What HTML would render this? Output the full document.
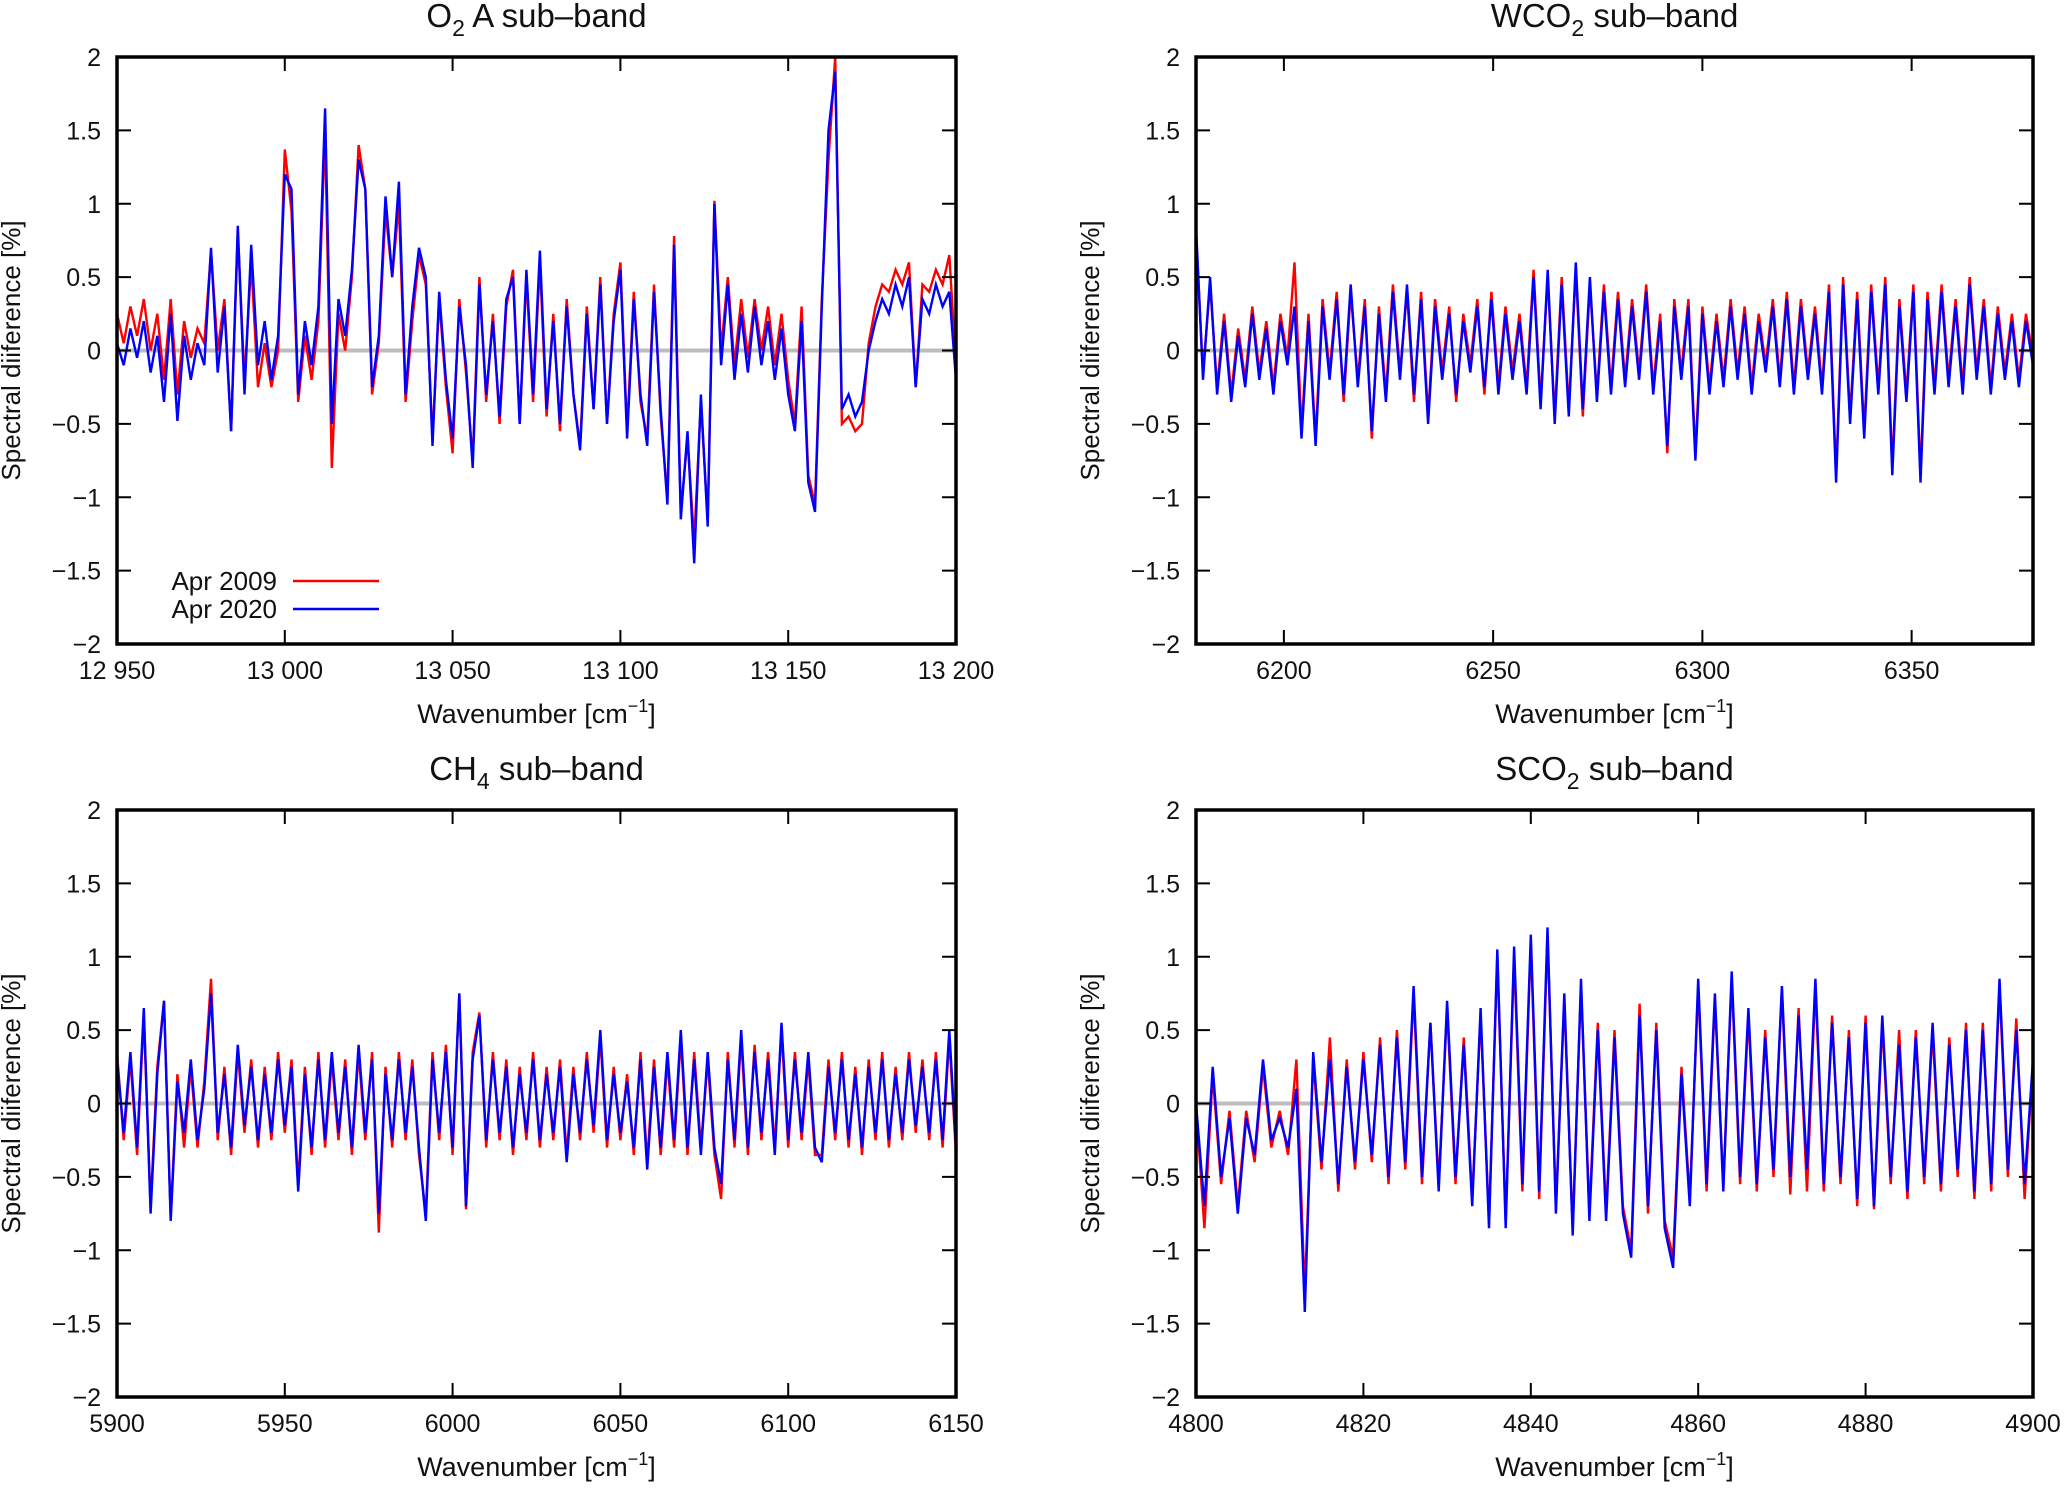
<!DOCTYPE html>
<html><head><meta charset="utf-8"><style>
html,body{margin:0;padding:0;background:#fff}
svg text{font-family:"Liberation Sans",sans-serif;fill:#111}
</style></head><body>
<svg id="chart" width="2067" height="1484" viewBox="0 0 2067 1484" xmlns="http://www.w3.org/2000/svg"></svg>
<script>
const o2Blue=[0.05,-0.1,0.15,-0.05,0.2,-0.15,0.1,-0.35,0.25,-0.48,0.1,-0.2,0.05,-0.1,0.7,-0.15,0.3,-0.55,0.85,-0.3,0.72,-0.1,0.2,-0.2,0.1,1.2,1.1,-0.3,0.2,-0.1,0.3,1.65,-0.5,0.35,0.1,0.55,1.3,1.1,-0.25,0.1,1.05,0.5,1.15,-0.3,0.3,0.7,0.5,-0.65,0.4,-0.2,-0.6,0.3,-0.1,-0.8,0.45,-0.3,0.2,-0.45,0.35,0.5,-0.5,0.55,-0.3,0.68,-0.4,0.2,-0.5,0.3,-0.3,-0.68,0.25,-0.4,0.45,-0.5,0.2,0.55,-0.6,0.35,-0.3,-0.65,0.4,-0.4,-1.05,0.72,-1.15,-0.55,-1.45,-0.3,-1.2,1.0,-0.1,0.45,-0.2,0.25,-0.15,0.3,-0.1,0.2,-0.2,0.15,-0.3,-0.55,0.2,-0.9,-1.1,0.3,1.5,1.9,-0.4,-0.3,-0.45,-0.35,0.0,0.2,0.35,0.25,0.45,0.3,0.5,-0.25,0.35,0.25,0.45,0.3,0.4,-0.2];
const o2Red=[0.25,0.05,0.3,0.1,0.35,0.0,0.25,-0.2,0.35,-0.3,0.2,-0.05,0.15,0.05,0.68,0.0,0.35,-0.55,0.8,-0.2,0.6,-0.25,0.05,-0.25,0.0,1.37,0.95,-0.35,0.1,-0.2,0.2,1.5,-0.8,0.25,0.0,0.5,1.4,1.1,-0.3,0.05,0.95,0.5,1.0,-0.35,0.2,0.65,0.45,-0.6,0.35,-0.25,-0.7,0.35,-0.15,-0.75,0.5,-0.35,0.25,-0.5,0.3,0.55,-0.5,0.5,-0.35,0.6,-0.45,0.25,-0.55,0.35,-0.3,-0.65,0.3,-0.4,0.5,-0.5,0.25,0.6,-0.55,0.4,-0.35,-0.6,0.45,-0.45,-1.0,0.78,-1.1,-0.6,-1.3,-0.35,-1.15,1.02,0.0,0.5,-0.1,0.35,-0.05,0.35,0.0,0.3,-0.1,0.25,-0.2,-0.5,0.3,-0.85,-1.05,0.35,1.3,2.0,-0.5,-0.45,-0.55,-0.5,0.05,0.3,0.45,0.4,0.55,0.45,0.6,-0.25,0.45,0.4,0.55,0.45,0.65,-0.1];
const wBlue=[0.85,-0.2,0.5,-0.3,0.2,-0.35,0.1,-0.25,0.25,-0.2,0.15,-0.3,0.2,-0.1,0.3,-0.6,0.2,-0.65,0.3,-0.2,0.35,-0.3,0.45,-0.25,0.3,-0.55,0.25,-0.35,0.4,-0.2,0.45,-0.3,0.35,-0.5,0.3,-0.2,0.25,-0.3,0.2,-0.15,0.3,-0.25,0.35,-0.3,0.25,-0.2,0.2,-0.3,0.5,-0.4,0.55,-0.5,0.45,-0.45,0.6,-0.4,0.5,-0.35,0.4,-0.3,0.35,-0.25,0.3,-0.2,0.4,-0.3,0.2,-0.65,0.3,-0.2,0.3,-0.75,0.25,-0.3,0.2,-0.25,0.3,-0.2,0.25,-0.3,0.2,-0.15,0.3,-0.25,0.35,-0.3,0.3,-0.2,0.25,-0.3,0.4,-0.9,0.45,-0.5,0.35,-0.6,0.4,-0.3,0.45,-0.85,0.3,-0.35,0.4,-0.9,0.35,-0.3,0.4,-0.25,0.3,-0.3,0.45,-0.2,0.3,-0.3,0.25,-0.2,0.2,-0.25,0.2,-0.1];
const wRed=[0.8,-0.15,0.45,-0.25,0.25,-0.3,0.15,-0.2,0.3,-0.15,0.2,-0.25,0.25,-0.05,0.6,-0.55,0.25,-0.6,0.35,-0.15,0.4,-0.35,0.4,-0.2,0.35,-0.6,0.3,-0.3,0.45,-0.15,0.4,-0.35,0.4,-0.45,0.35,-0.15,0.3,-0.35,0.25,-0.1,0.35,-0.3,0.4,-0.25,0.3,-0.15,0.25,-0.25,0.55,-0.35,0.5,-0.45,0.5,-0.4,0.55,-0.45,0.45,-0.3,0.45,-0.25,0.4,-0.2,0.35,-0.15,0.45,-0.25,0.25,-0.7,0.35,-0.15,0.35,-0.7,0.3,-0.25,0.25,-0.2,0.35,-0.15,0.3,-0.25,0.25,-0.1,0.35,-0.2,0.4,-0.25,0.35,-0.15,0.3,-0.25,0.45,-0.85,0.5,-0.45,0.4,-0.55,0.45,-0.25,0.5,-0.8,0.35,-0.3,0.45,-0.85,0.4,-0.25,0.45,-0.2,0.35,-0.25,0.5,-0.15,0.35,-0.25,0.3,-0.15,0.25,-0.2,0.25,-0.05];
const chBlue=[0.3,-0.2,0.35,-0.3,0.65,-0.75,0.2,0.7,-0.8,0.15,-0.2,0.3,-0.25,0.1,0.75,-0.2,0.2,-0.3,0.4,-0.15,0.25,-0.25,0.2,-0.2,0.3,-0.15,0.25,-0.6,0.2,-0.3,0.3,-0.25,0.35,-0.2,0.25,-0.3,0.4,-0.2,0.3,-0.75,0.2,-0.25,0.3,-0.2,0.25,-0.3,-0.8,0.3,-0.2,0.35,-0.3,0.75,-0.7,0.3,0.6,-0.25,0.3,-0.2,0.25,-0.3,0.2,-0.2,0.3,-0.25,0.2,-0.2,0.25,-0.4,0.2,-0.2,0.3,-0.15,0.5,-0.25,0.2,-0.2,0.15,-0.3,0.3,-0.45,0.25,-0.3,0.35,-0.25,0.5,-0.3,0.3,-0.35,0.35,-0.3,-0.55,0.3,-0.25,0.5,-0.3,0.35,-0.2,0.3,-0.35,0.55,-0.25,0.3,-0.2,0.35,-0.3,-0.4,0.25,-0.2,0.3,-0.25,0.2,-0.3,0.25,-0.2,0.3,-0.25,0.2,-0.2,0.3,-0.15,0.25,-0.2,0.3,-0.25,0.5,-0.3];
const chRed=[0.35,-0.25,0.3,-0.35,0.6,-0.7,0.25,0.7,-0.78,0.2,-0.3,0.25,-0.3,0.15,0.85,-0.25,0.25,-0.35,0.35,-0.2,0.3,-0.3,0.25,-0.25,0.35,-0.2,0.3,-0.55,0.25,-0.35,0.35,-0.3,0.3,-0.25,0.3,-0.35,0.35,-0.25,0.35,-0.88,0.25,-0.3,0.35,-0.25,0.3,-0.35,-0.75,0.35,-0.25,0.4,-0.35,0.75,-0.72,0.35,0.62,-0.3,0.35,-0.25,0.3,-0.35,0.25,-0.25,0.35,-0.3,0.25,-0.25,0.3,-0.35,0.25,-0.25,0.35,-0.2,0.45,-0.3,0.25,-0.25,0.2,-0.35,0.35,-0.4,0.3,-0.35,0.3,-0.3,0.45,-0.35,0.35,-0.3,0.3,-0.35,-0.65,0.35,-0.3,0.45,-0.35,0.4,-0.25,0.35,-0.3,0.5,-0.3,0.35,-0.25,0.3,-0.35,-0.35,0.3,-0.25,0.35,-0.3,0.25,-0.35,0.3,-0.25,0.35,-0.3,0.25,-0.25,0.35,-0.2,0.3,-0.25,0.35,-0.3,0.45,-0.35];
const sBlue=[0,-0.7,0.25,-0.5,-0.1,-0.75,-0.1,-0.35,0.3,-0.25,-0.1,-0.3,0.1,-1.42,0.35,-0.4,0.3,-0.55,0.25,-0.4,0.3,-0.35,0.4,-0.5,0.45,-0.4,0.8,-0.5,0.55,-0.6,0.7,-0.5,0.4,-0.7,0.65,-0.85,1.05,-0.85,1.07,-0.55,1.15,-0.6,1.2,-0.75,0.75,-0.9,0.85,-0.8,0.5,-0.8,0.45,-0.75,-1.05,0.6,-0.7,0.5,-0.85,-1.12,0.2,-0.7,0.85,-0.55,0.75,-0.6,0.9,-0.5,0.65,-0.55,0.45,-0.45,0.8,-0.5,0.6,-0.45,0.85,-0.55,0.55,-0.5,0.45,-0.65,0.55,-0.7,0.6,-0.5,0.4,-0.6,0.45,-0.5,0.55,-0.55,0.4,-0.45,0.5,-0.6,0.5,-0.55,0.85,-0.45,0.5,-0.55,0.3];
const sRed=[0,-0.85,0.2,-0.55,-0.05,-0.7,-0.05,-0.4,0.25,-0.3,-0.05,-0.35,0.3,-1.3,0.3,-0.45,0.45,-0.6,0.3,-0.45,0.35,-0.4,0.45,-0.55,0.5,-0.45,0.75,-0.55,0.55,-0.55,0.65,-0.55,0.45,-0.65,0.6,-0.8,1.0,-0.8,1.0,-0.6,1.1,-0.65,1.15,-0.7,0.7,-0.85,0.8,-0.75,0.55,-0.75,0.5,-0.7,-1.0,0.68,-0.75,0.55,-0.8,-1.05,0.25,-0.65,0.8,-0.6,0.7,-0.55,0.85,-0.55,0.6,-0.6,0.5,-0.5,0.78,-0.62,0.65,-0.6,0.8,-0.6,0.6,-0.55,0.5,-0.7,0.6,-0.72,0.55,-0.55,0.5,-0.65,0.5,-0.55,0.5,-0.6,0.45,-0.5,0.55,-0.65,0.55,-0.6,0.8,-0.5,0.58,-0.65,0.3];
const yTicks=[-2,-1.5,-1,-0.5,0,0.5,1,1.5,2];
const yTickLabels=["\u22122","\u22121.5","\u22121","\u22120.5","0","0.5","1","1.5","2"];
const o2XTicks=[12950,13000,13050,13100,13150,13200];
const o2XLabels=["12 950","13 000","13 050","13 100","13 150","13 200"];
const wXTicks=[6200,6250,6300,6350];
const wXLabels=["6200","6250","6300","6350"];
const chXTicks=[5900,5950,6000,6050,6100,6150];
const chXLabels=["5900","5950","6000","6050","6100","6150"];
const sXTicks=[4800,4820,4840,4860,4880,4900];
const sXLabels=["4800","4820","4840","4860","4880","4900"];

const NS="http://www.w3.org/2000/svg";
const svg=document.getElementById('chart');
function mk(tag,attrs,parent){const e=document.createElementNS(NS,tag);for(const k in attrs)e.setAttribute(k,attrs[k]);(parent||svg).appendChild(e);return e;}

const panels=[
 {key:'o2',title:['O','2',' A sub\u2013band'],L:117,R:956,T:57,B:644,x0:12950,x1:13200,xt:o2XTicks,xl:o2XLabels,red:o2Red,blue:o2Blue,legend:true},
 {key:'wco2',title:['WCO','2',' sub\u2013band'],L:1196,R:2033,T:57,B:644,x0:6179,x1:6379,xt:wXTicks,xl:wXLabels,red:wRed,blue:wBlue},
 {key:'ch4',title:['CH','4',' sub\u2013band'],L:117,R:956,T:810,B:1397,x0:5900,x1:6150,xt:chXTicks,xl:chXLabels,red:chRed,blue:chBlue},
 {key:'sco2',title:['SCO','2',' sub\u2013band'],L:1196,R:2033,T:810,B:1397,x0:4800,x1:4900,xt:sXTicks,xl:sXLabels,red:sRed,blue:sBlue}
];

panels.forEach(p=>{
 const g=mk('g',{});
 
 
 const xs=v=>p.L+(v-p.x0)/(p.x1-p.x0)*(p.R-p.L);
 const ys=v=>p.B-(v+2)/4*(p.B-p.T);
 const t=mk('text',{x:(p.L+p.R)/2,y:p.T-30,'text-anchor':'middle','font-size':33},g);
 
 
 t.appendChild(document.createTextNode(p.title[0]));
 const sub=mk('tspan',{'font-size':23,dy:9},t);sub.textContent=p.title[1];
 const rest=mk('tspan',{dy:-9},t);rest.textContent=p.title[2];
 const z=mk('line',{x1:p.L,x2:p.R,y1:ys(0),y2:ys(0),stroke:'#bdbdbd','stroke-width':4},g);
 
 
 [['red','#ff0000',p.red,'apr-2009'],['blue','#0000ff',p.blue,'apr-2020']].forEach(s=>{
  const arr=s[2];const n=arr.length;
  const pts=arr.map((v,i)=>xs(p.x0+i*(p.x1-p.x0)/(n-1)).toFixed(1)+','+ys(v).toFixed(1)).join(' ');
  const pl=mk('polyline',{points:pts,fill:'none',stroke:s[1],'stroke-width':2.4,'stroke-linejoin':'miter'},g);
  
  
 });
 yTicks.forEach((v,i)=>{
  const y=ys(v);
  mk('line',{x1:p.L,x2:p.L+14,y1:y,y2:y,stroke:'#000','stroke-width':2},g);
  mk('line',{x1:p.R,x2:p.R-14,y1:y,y2:y,stroke:'#000','stroke-width':2},g);
  const tl=mk('text',{x:p.L-16,y:y+9,'text-anchor':'end','font-size':25},g);
  
  
  tl.textContent=yTickLabels[i];
 });
 p.xt.forEach((v,i)=>{
  const x=xs(v);
  mk('line',{x1:x,x2:x,y1:p.B,y2:p.B-14,stroke:'#000','stroke-width':2},g);
  mk('line',{x1:x,x2:x,y1:p.T,y2:p.T+14,stroke:'#000','stroke-width':2},g);
  const tl=mk('text',{x:x,y:p.B+35,'text-anchor':'middle','font-size':25},g);
  
  
  tl.textContent=p.xl[i];
 });
 const fr=mk('rect',{x:p.L,y:p.T,width:p.R-p.L,height:p.B-p.T,fill:'none',stroke:'#000','stroke-width':3.5},g);
 
 
 const xl=mk('text',{x:(p.L+p.R)/2,y:p.B+79,'text-anchor':'middle','font-size':27},g);
 
 
 xl.appendChild(document.createTextNode('Wavenumber [cm'));
 const sp=mk('tspan',{'font-size':18,dy:-11},xl);sp.textContent='\u22121';
 const sp2=mk('tspan',{dy:11},xl);sp2.textContent=']';
 const cx=p.L-97,cy=(p.T+p.B)/2;
 const yl=mk('text',{x:cx,y:cy,'text-anchor':'middle','font-size':26,transform:'rotate(-90 '+cx+' '+cy+')'},g);
 
 
 yl.textContent='Spectral diiference [%]';
 if(p.legend){
  [['Apr 2009','#ff0000',581],['Apr 2020','#0000ff',609]].forEach(l=>{
   const lt=mk('text',{x:277,y:l[2]+9,'text-anchor':'end','font-size':26},g);
   
   
   lt.textContent=l[0];
   const ll=mk('line',{x1:293,x2:379,y1:l[2],y2:l[2],stroke:l[1],'stroke-width':2.4},g);
   
   
  });
 }
});
</script>
</body></html>
